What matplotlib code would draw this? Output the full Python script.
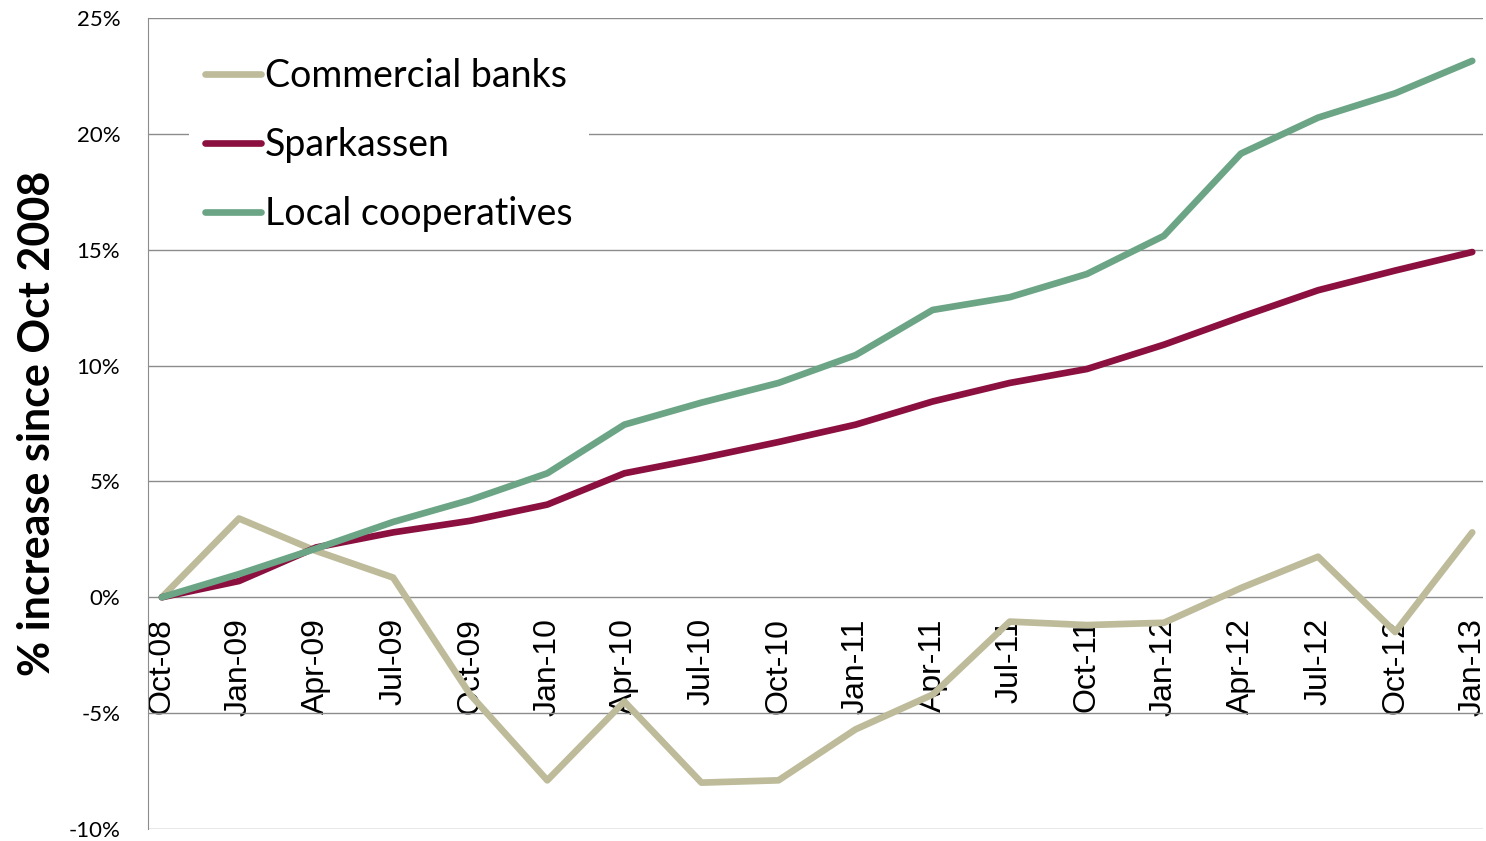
import matplotlib
matplotlib.use("Agg")
import matplotlib.pyplot as plt
from matplotlib.ticker import FuncFormatter, MultipleLocator

dates = ["Oct-08", "Jan-09", "Apr-09", "Jul-09", "Oct-09", "Jan-10", "Apr-10", "Jul-10",
         "Oct-10", "Jan-11", "Apr-11", "Jul-11", "Oct-11", "Jan-12", "Apr-12", "Jul-12",
         "Oct-12", "Jan-13"]
commercial = [0.0, 3.4, 2.0, 0.85, -4.2, -7.9, -4.5, -8.0, -7.9, -5.7, -4.2, -1.05,
              -1.2, -1.1, 0.4, 1.75, -1.5, 2.8]
sparkassen = [0.0, 0.7, 2.15, 2.8, 3.3, 4.0, 5.35, 6.0, 6.7, 7.45, 8.45, 9.25, 9.85,
              10.9, 12.1, 13.25, 14.1, 14.9]
cooperatives = [0.0, 1.0, 2.1, 3.25, 4.2, 5.35, 7.45, 8.4, 9.25, 10.45, 12.4, 12.95,
                13.95, 15.6, 19.15, 20.7, 21.75, 23.15]

fig = plt.figure(figsize=(14.86, 8.41), dpi=100)
ax = fig.add_axes([0.0996, 0.0143, 0.8984, 0.9643])

x = list(range(len(dates)))
ax.plot(x, commercial, color="#BDBB99", lw=4.8, label="Commercial banks", solid_capstyle="round", zorder=3)
ax.plot(x, sparkassen, color="#8B1040", lw=4.8, label="Sparkassen", solid_capstyle="round", zorder=3)
ax.plot(x, cooperatives, color="#6BA585", lw=4.8, label="Local cooperatives", solid_capstyle="round", zorder=3)

ax.set_xlim(-0.18, 17.14)
ax.set_ylim(-10, 25)
ax.yaxis.set_major_locator(MultipleLocator(5))
ax.yaxis.set_major_formatter(FuncFormatter(lambda v, p: f"{int(round(v))}%"))
ax.grid(axis="y", color="#8C8C8C", lw=1.0, zorder=1)
ax.set_axisbelow(True)

for s in ["top", "right"]:
    ax.spines[s].set_visible(False)
ax.spines["left"].set_color("#8C8C8C")
ax.spines["bottom"].set_position(("data", 0))
ax.spines["bottom"].set_visible(False)

ax.set_xticks(x)
ax.set_xticklabels(dates, rotation=90, fontsize=23, family="Liberation Sans", va="top")
ax.tick_params(axis="x", length=0, pad=15)
ax.tick_params(axis="y", length=0, pad=20, labelsize=16)
for t in ax.get_yticklabels():
    t.set_family("Lato")

ax.set_ylabel("% increase since Oct 2008", fontsize=31, fontweight="bold", family="Lato", labelpad=8)

leg = ax.legend(loc="upper left", bbox_to_anchor=(0.017, 0.993), frameon=True, fancybox=False,
                edgecolor="none", facecolor="white", framealpha=1, prop={"family": "Lato", "size": 27},
                handlelength=1.5, handletextpad=0.1, labelspacing=0.88, borderpad=0.42)
leg.set_zorder(5)

fig.savefig("out.png", dpi=100)
